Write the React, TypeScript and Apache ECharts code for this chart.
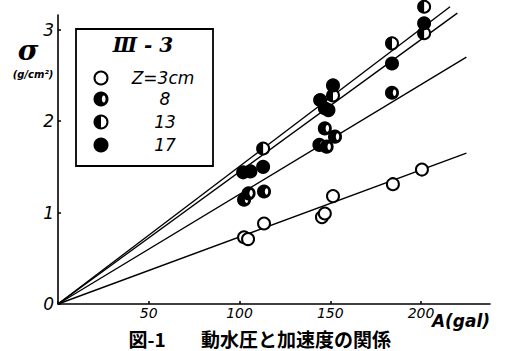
import React, { useEffect, useRef } from "react";
import * as echarts from "echarts";

// ---- data ----
const xTicks = [0, 50, 100, 150, 200];
const xTickLabels = [50, 100, 150, 200];
const yTicks = [0, 1, 2, 3];

// Z = 3 cm (open circles)
const z3Points = [
  [102.5, 0.73], [104.7, 0.71], [113.5, 0.88], [145.4, 0.95],
  [147, 0.99], [151.5, 1.18], [184.5, 1.31], [200.5, 1.47],
];
// Z = 8 (mostly filled)
const z8Points = [
  [102.5, 1.14], [105, 1.21], [113.5, 1.23], [144, 1.74],
  [148, 1.72], [147, 1.92], [152.6, 1.83], [184, 2.31],
];
// Z = 13 (half filled)
const z13Points = [
  [113, 1.7], [151.5, 2.28], [184, 2.85], [201.7, 3.25], [201.7, 2.96],
];
// Z = 17 (filled)
const z17Points = [
  [102, 1.44], [106, 1.45], [113, 1.5], [144.4, 2.23], [147, 2.14],
  [149, 2.12], [151.5, 2.39], [184, 2.63], [201.7, 3.07],
];

// fitted straight lines through the origin
const lineZ3 = [[0, 0], [225, 1.65]];
const lineZ8 = [[0, 0], [225, 2.7]];
const lineZ13 = [[0, 0], [216, 3.25]];
const lineZ17 = [[0, 0], [220, 3.18]];

const legendLabels = ["Z=3cm", "8", "13", "17"];
const kinds = ["open", "most", "half", "full"];

const R = 6;

function symbolShapes(kind: string, cx: number, cy: number, r: number): any[] {
  const out: any[] = [];
  if (kind === "open") {
    out.push({ type: "circle", shape: { cx, cy, r }, style: { fill: "#fff", stroke: "#000", lineWidth: 2 } });
  } else if (kind === "full") {
    out.push({ type: "circle", shape: { cx, cy, r }, style: { fill: "#000", stroke: "#000", lineWidth: 2 } });
  } else if (kind === "half") {
    out.push({ type: "circle", shape: { cx, cy, r }, style: { fill: "#fff", stroke: "#000", lineWidth: 2 } });
    out.push({
      type: "sector",
      shape: { cx, cy, r0: 0, r, startAngle: Math.PI / 2, endAngle: (Math.PI * 3) / 2, clockwise: true },
      style: { fill: "#000" },
    });
  } else {
    out.push({ type: "circle", shape: { cx, cy, r }, style: { fill: "#000", stroke: "#000", lineWidth: 2 } });
    out.push({
      type: "ellipse",
      shape: { cx: cx + r * 0.42, cy, rx: r * 0.28, ry: r * 0.55 },
      style: { fill: "#fff" },
    });
  }
  return out;
}

function pointSeries(data: number[][], kind: string) {
  return {
    type: "custom",
    data,
    encode: { x: 0, y: 1 },
    clip: false,
    z: 5,
    renderItem: (params: any, api: any) => {
      const p = api.coord([api.value(0), api.value(1)]);
      return { type: "group", children: symbolShapes(kind, p[0], p[1], R) };
    },
  };
}

function lineSeries(data: number[][]) {
  return {
    type: "line",
    data,
    clip: false,
    symbol: "none",
    z: 3,
    lineStyle: { color: "#000", width: 1.4 },
  };
}

export default function App() {
  const ref = useRef<HTMLDivElement>(null);
  useEffect(() => {
    document.body.style.margin = "0";
    const chart = echarts.init(ref.current!, null, { renderer: "svg" });
    const legendYs = [78, 99, 122, 145];
    const legendGraphics: any[] = [
      {
        type: "rect",
        shape: { x: 76, y: 29, width: 137, height: 137 },
        style: { fill: "transparent", stroke: "#000", lineWidth: 1.8 },
      },
      {
        type: "text",
        x: 143,
        y: 45,
        style: {
          text: "Ⅲ - 3",
          font: "italic bold 20px 'DejaVu Serif'",
          fill: "#000",
          align: "center",
          verticalAlign: "middle",
        },
      },
    ];
    kinds.forEach((k, i) => {
      legendGraphics.push({ type: "group", children: symbolShapes(k, 101, legendYs[i], 6.5) });
      legendGraphics.push({
        type: "text",
        x: i === 0 ? 163 : 165,
        y: legendYs[i],
        style: {
          text: legendLabels[i],
          font: "italic 17px 'DejaVu Sans'",
          fill: "#000",
          align: "center",
          verticalAlign: "middle",
        },
      });
    });

    chart.setOption({
      animation: false,
      backgroundColor: "#fff",
      grid: { left: 58, right: 16, top: 15, bottom: 47, containLabel: false },
      xAxis: {
        type: "value",
        min: 0,
        max: 238,
        axisLine: { show: true, lineStyle: { color: "#000", width: 1.6 } },
        axisTick: { show: true, inside: true, length: 3, customValues: xTicks, lineStyle: { color: "#000", width: 1.5 } },
        axisLabel: {
          customValues: xTickLabels,
          margin: 2,
          color: "#000",
          fontFamily: "DejaVu Sans",
          fontStyle: "italic",
          fontSize: 14,
        },
        splitLine: { show: false },
      },
      yAxis: {
        type: "value",
        min: 0,
        max: 3.16,
        axisLine: { show: true, lineStyle: { color: "#000", width: 1.6 } },
        axisTick: { show: true, inside: true, length: 3, customValues: yTicks, lineStyle: { color: "#000", width: 1.5 } },
        axisLabel: {
          customValues: yTicks,
          margin: 4,
          color: "#000",
          fontFamily: "DejaVu Sans",
          fontStyle: "italic",
          fontSize: 17,
        },
        splitLine: { show: false },
      },
      graphic: [
        ...legendGraphics,
        {
          type: "text",
          x: 28,
          y: 50,
          style: {
            text: "σ",
            font: "italic bold 28px 'DejaVu Serif'",
            fill: "#000",
            align: "center",
            verticalAlign: "middle",
          },
        },
        {
          type: "text",
          x: 33,
          y: 74,
          style: {
            text: "(g/cm²)",
            font: "italic bold 10px 'DejaVu Sans'",
            fill: "#000",
            align: "center",
            verticalAlign: "middle",
          },
        },
        {
          type: "text",
          x: 461,
          y: 321,
          style: {
            text: "A(gal)",
            font: "italic bold 17px 'DejaVu Sans'",
            fill: "#000",
            align: "center",
            verticalAlign: "middle",
          },
        },
        {
          type: "text",
          x: 147,
          y: 338,
          style: {
            text: "図-1",
            font: "bold 19px 'Noto Sans CJK JP'",
            fill: "#000",
            align: "center",
            verticalAlign: "middle",
          },
        },
        {
          type: "text",
          x: 296,
          y: 338,
          style: {
            text: "動水圧と加速度の関係",
            font: "bold 19px 'Noto Sans CJK JP'",
            fill: "#000",
            align: "center",
            verticalAlign: "middle",
          },
        },
      ],
      series: [
        lineSeries(lineZ3),
        lineSeries(lineZ8),
        lineSeries(lineZ13),
        lineSeries(lineZ17),
        pointSeries(z3Points, "open"),
        pointSeries(z8Points, "most"),
        pointSeries(z13Points, "half"),
        pointSeries(z17Points, "full"),
      ],
    });
    return () => chart.dispose();
  }, []);
  return <div ref={ref} style={{ width: 506, height: 351 }} />;
}
